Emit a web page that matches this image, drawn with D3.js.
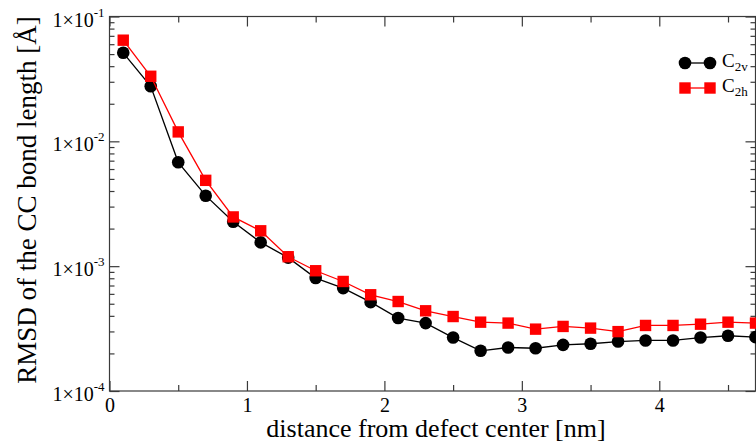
<!DOCTYPE html>
<html>
<head>
<meta charset="utf-8">
<script src="https://cdn.jsdelivr.net/npm/d3@7"></script>
<style>
  body { margin: 0; background: #fff; }
  svg text { font-family: "Liberation Serif", "DejaVu Serif", serif; }
</style>
</head>
<body>
<div id="chart"></div>
<script>
var w = 756;
var h = 445;

// distance from defect center [nm]
var distance = [0.1, 0.3, 0.5, 0.7, 0.9, 1.1, 1.3, 1.5, 1.7, 1.9, 2.1, 2.3,
                2.5, 2.7, 2.9, 3.1, 3.3, 3.5, 3.7, 3.9, 4.1, 4.3, 4.5, 4.7];
// RMSD, C2v
var rmsdC2v = [0.0512, 0.0276, 0.00679, 0.00367, 0.00227, 0.00155, 0.00117, 0.000803,
               0.000667, 0.000515, 0.000384, 0.000350, 0.000268, 0.000210, 0.000223, 0.000220,
               0.000234, 0.000239, 0.000249, 0.000254, 0.000254, 0.000268, 0.000277, 0.000270];
// RMSD, C2h
var rmsdC2h = [0.0646, 0.0332, 0.0119, 0.00487, 0.00248, 0.00192, 0.00119, 0.000919,
               0.000754, 0.000590, 0.000521, 0.000439, 0.000395, 0.000356, 0.000350, 0.000313,
               0.000329, 0.000319, 0.000299, 0.000335, 0.000335, 0.000343, 0.000356, 0.000350];

var xMajor = [0, 1, 2, 3, 4];
var xMinor = [0.5, 1.5, 2.5, 3.5, 4.5];
var yMajorExp = [-4, -3, -2, -1];

var pLeft = 109.5, pRight = 755.5, pTop = 16.5, pBottom = 391;
var axisColor = "#3a3a3a";

var xScale = d3.scaleLinear().domain([0, 4.7]).range([pLeft, pRight]);
var yScale = d3.scaleLog().domain([1e-4, 1e-1]).range([pBottom, pTop]);

var yMajor = yMajorExp.map(e => Math.pow(10, e));
var yMinor = [];
yMajorExp.slice(0, 3).forEach(e => {
  for (var k = 2; k <= 9; k++) yMinor.push(k * Math.pow(10, e));
});

var svg = d3.select("#chart").append("svg")
  .attr("width", w)
  .attr("height", h);

// frame
svg.append("rect")
  .attr("x", pLeft).attr("y", pTop)
  .attr("width", pRight - pLeft).attr("height", pBottom - pTop)
  .attr("fill", "none")
  .attr("stroke", axisColor)
  .attr("stroke-width", 1.2);

function styleAxis(g) {
  g.select(".domain").remove();
  g.selectAll(".tick line").attr("stroke", axisColor).attr("stroke-width", 1.2);
}

// bottom axis
svg.append("g").attr("transform", "translate(0," + pBottom + ")")
  .call(d3.axisBottom(xScale).tickValues(xMajor).tickSizeInner(-10).tickFormat(d3.format("d")))
  .call(styleAxis)
  .call(g => g.selectAll("text").attr("font-size", 20).attr("fill", "#000")
                 .attr("dy", 0).attr("y", 21));
svg.append("g").attr("transform", "translate(0," + pBottom + ")")
  .call(d3.axisBottom(xScale).tickValues(xMinor).tickSizeInner(-6).tickFormat(""))
  .call(styleAxis);
// top axis
svg.append("g").attr("transform", "translate(0," + pTop + ")")
  .call(d3.axisTop(xScale).tickValues(xMajor).tickSizeInner(-10).tickFormat(""))
  .call(styleAxis);
svg.append("g").attr("transform", "translate(0," + pTop + ")")
  .call(d3.axisTop(xScale).tickValues(xMinor).tickSizeInner(-6).tickFormat(""))
  .call(styleAxis);

// left axis
svg.append("g").attr("transform", "translate(" + pLeft + ",0)")
  .call(d3.axisLeft(yScale).tickValues(yMajor).tickSizeInner(-10).tickFormat(""))
  .call(styleAxis);
svg.append("g").attr("transform", "translate(" + pLeft + ",0)")
  .call(d3.axisLeft(yScale).tickValues(yMinor).tickSizeInner(-5).tickFormat(""))
  .call(styleAxis);
// right axis
svg.append("g").attr("transform", "translate(" + pRight + ",0)")
  .call(d3.axisRight(yScale).tickValues(yMajor).tickSizeInner(-10).tickFormat(""))
  .call(styleAxis);
svg.append("g").attr("transform", "translate(" + pRight + ",0)")
  .call(d3.axisRight(yScale).tickValues(yMinor).tickSizeInner(-5).tickFormat(""))
  .call(styleAxis);

// y tick labels 1x10^n
yMajorExp.forEach(e => {
  var t = svg.append("text")
    .attr("x", pLeft - 5)
    .attr("y", yScale(Math.pow(10, e)) + 10)
    .attr("text-anchor", "end")
    .attr("font-size", 20)
    .attr("fill", "#000");
  t.append("tspan").text("1\u00d710");
  t.append("tspan").attr("dy", -10).attr("font-size", 13).text(String(e));
});

// axis titles
svg.append("text")
  .attr("x", 436)
  .attr("y", 437)
  .attr("text-anchor", "middle")
  .attr("font-size", 26)
  .attr("fill", "#000")
  .text("distance from defect center [nm]");

svg.append("text")
  .attr("transform", "translate(36,200) rotate(-90)")
  .attr("text-anchor", "middle")
  .attr("font-size", 27)
  .attr("fill", "#000")
  .text("RMSD of the CC bond length [\u00c5]");

// series
var series = [
  { name: "2v", values: rmsdC2v, color: "#000000", shape: "circle" },
  { name: "2h", values: rmsdC2h, color: "#ff0000", shape: "square" }
];

var line = d3.line()
  .x(d => xScale(d[0]))
  .y(d => yScale(d[1]));

series.forEach(s => {
  var pts = distance.map((d, i) => [d, s.values[i]]);
  svg.append("path")
    .datum(pts)
    .attr("fill", "none")
    .attr("stroke", s.color)
    .attr("stroke-width", 1.3)
    .attr("d", line);
  if (s.shape === "circle") {
    svg.selectAll(".c" + s.name).data(pts).enter().append("circle")
      .attr("cx", d => xScale(d[0]))
      .attr("cy", d => yScale(d[1]))
      .attr("r", 6.3)
      .attr("fill", s.color);
  } else {
    svg.selectAll(".s" + s.name).data(pts).enter().append("rect")
      .attr("x", d => xScale(d[0]) - 5.7)
      .attr("y", d => yScale(d[1]) - 5.7)
      .attr("width", 11.4)
      .attr("height", 11.4)
      .attr("fill", s.color);
  }
});

// legend
var legY = [63, 88];
series.forEach((s, i) => {
  var g = svg.append("g").attr("transform", "translate(0," + legY[i] + ")");
  g.append("line").attr("x1", 685).attr("x2", 710).attr("y1", 0).attr("y2", 0)
    .attr("stroke", s.color).attr("stroke-width", 1.3);
  [685, 710].forEach(px => {
    if (s.shape === "circle") {
      g.append("circle").attr("cx", px).attr("cy", 0).attr("r", 6.3).attr("fill", s.color);
    } else {
      g.append("rect").attr("x", px - 5.7).attr("y", -5.7).attr("width", 11.4).attr("height", 11.4).attr("fill", s.color);
    }
  });
  var t = g.append("text").attr("x", 722).attr("y", 4).attr("font-size", 19).attr("fill", "#000");
  t.append("tspan").text("C");
  t.append("tspan").attr("dy", 4).attr("font-size", 13).text(s.name);
});
</script>
</body>
</html>
